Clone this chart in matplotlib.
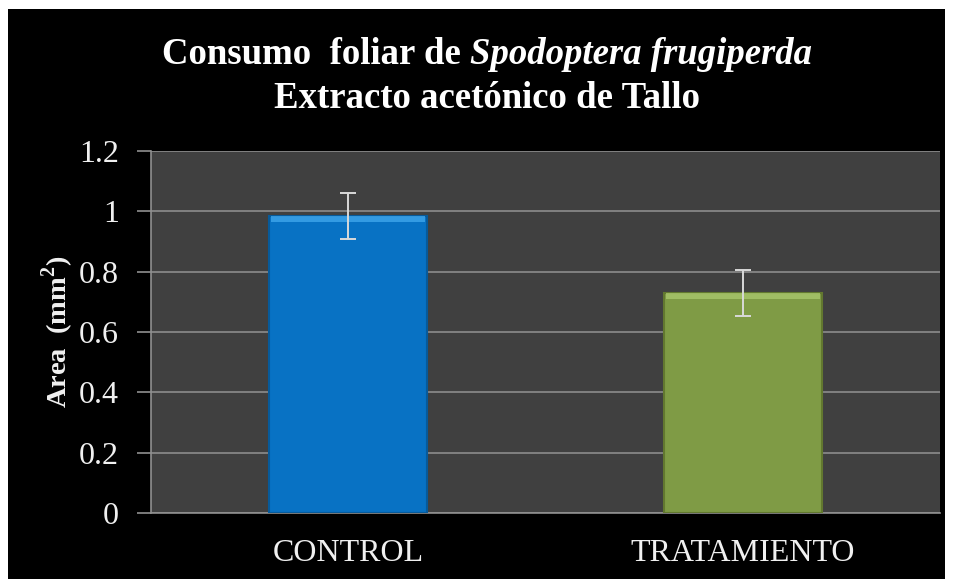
import matplotlib
matplotlib.use("Agg")
import matplotlib.pyplot as plt
from matplotlib.patches import Rectangle

categories = ["CONTROL", "TRATAMIENTO"]
values = [0.985, 0.73]
errors = [0.077, 0.077]
bar_colors = ["#0872C4", "#7F9B45"]
bevel_colors = ["#3fa6ec", "#a9c66c"]
yticks = [0, 0.2, 0.4, 0.6, 0.8, 1.0, 1.2]
ytick_labels = ["0", "0.2", "0.4", "0.6", "0.8", "1", "1.2"]

W, H = 956, 579
fig = plt.figure(figsize=(W / 100, H / 100), dpi=100, facecolor="white")
bg = Rectangle((8 / W, 0), (945 - 8) / W, (579 - 9) / H,
               transform=fig.transFigure, facecolor="black",
               edgecolor="none", zorder=-10)
fig.add_artist(bg)

serif = ["Liberation Serif", "DejaVu Serif"]
ax = fig.add_axes([151 / W, 1 - 513 / H, (940 - 151) / W, (513 - 151) / H])
ax.set_zorder(2)
ax.set_facecolor("#404040")
x = list(range(len(categories)))
ax.bar(x, values, width=0.4, color=bar_colors, edgecolor=["#075a9a", "#62782f"],
       linewidth=1.5, zorder=3)
# top bevel highlight
bevel = 0.02
ax.bar(x, [bevel] * len(values), bottom=[v - bevel for v in values], width=0.39,
       color=bevel_colors, edgecolor="none", alpha=0.8, zorder=3.5)
ax.errorbar(x, values, yerr=errors, fmt="none", ecolor="#d9d9d9",
            elinewidth=1.4, capsize=6, capthick=1.4, zorder=4)
ax.set_xlim(-0.5, 1.5)
ax.set_ylim(0, 1.2)
ax.set_yticks(yticks)
ax.set_yticklabels(ytick_labels, family=serif, fontsize=23, color="#f0f0f0")
ax.set_xticks(x)
ax.set_xticklabels(categories, family=serif, fontsize=23, color="#f0f0f0")
ax.tick_params(axis="x", length=0, pad=19)
ax.tick_params(axis="y", length=10, color="#909090", width=1.2, pad=13)
ax.yaxis.grid(True, color="#8c8c8c", linewidth=1.2, zorder=1)
ax.set_axisbelow(True)
for s in ["top", "right"]:
    ax.spines[s].set_visible(False)
ax.spines["left"].set_color("#909090")
ax.spines["bottom"].set_color("#909090")
ax.spines["left"].set_linewidth(1.2)
ax.spines["bottom"].set_linewidth(1.2)

ax.set_ylabel("Area  (mm$^\\mathregular{2}$)", family=serif, fontsize=20.5,
              fontweight="bold", color="#f0f0f0", labelpad=2)

# Title with mixed styles
fig.canvas.draw()
r = fig.canvas.get_renderer()
pieces = [("Consumo  foliar de ", "normal"), ("Spodoptera frugiperda", "italic")]
tsize = 26.5
texts = []
for s, st in pieces:
    t = fig.text(0, 1 - 64 / H, s, family=serif, fontsize=tsize, fontweight="bold",
                 style=st, color="white", ha="left", va="baseline")
    texts.append(t)
widths = [t.get_window_extent(r).width for t in texts]
total = sum(widths)
cx = 487
xpos = cx - total / 2
for t, w in zip(texts, widths):
    t.set_x(xpos / W)
    xpos += w
fig.text(cx / W, 1 - 108 / H, "Extracto acetónico de Tallo", family=serif,
         fontsize=tsize, fontweight="bold", color="white", ha="center", va="baseline")

fig.savefig("out.png", dpi=100, facecolor=fig.get_facecolor())
